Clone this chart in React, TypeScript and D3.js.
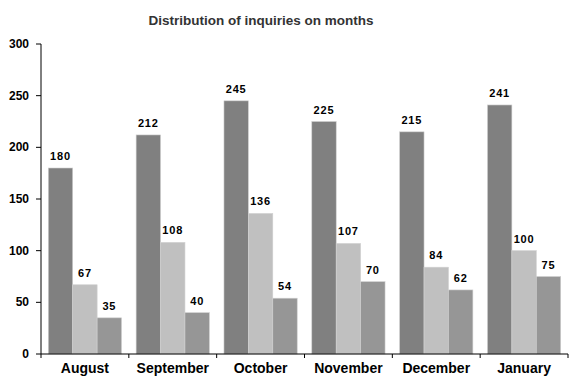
import React from "react";
import * as d3 from "d3";

const months = ["August", "September", "October", "November", "December", "January"];
const series1 = [180, 212, 245, 225, 215, 241];
const series2 = [67, 108, 136, 107, 84, 100];
const series3 = [35, 40, 54, 70, 62, 75];
const yTicks = [0, 50, 100, 150, 200, 250, 300];
const colors = ["#808080", "#c0c0c0", "#969696"];

const W = 580, H = 380;
const left = 41, right = 568, top = 44, bottom = 354;

export default function App() {
  const x = d3.scaleBand<string>().domain(months).range([left, right]).padding(0);
  const y = d3.scaleLinear().domain([0, 300]).range([bottom, top]);
  const bw = x.bandwidth();
  const inner = d3.scaleBand<number>().domain([0, 1, 2]).range([bw * 0.083, bw * 0.917]).padding(0);
  const series = [series1, series2, series3];
  const labelFont = "'Liberation Sans', Arial, sans-serif";
  return (
    <svg width={W} height={H} style={{ position: "absolute", left: 0, top: 0, background: "#fff" }}>
      <text x={261} y={25} textAnchor="middle" fontFamily={labelFont} fontWeight="bold" fontSize={13.5} fill="#333">
        Distribution of inquiries on months
      </text>
      {months.map((m, i) => (
        <g key={m} transform={`translate(${x(m)},0)`}>
          {series.map((s, k) => (
            <g key={k}>
              <rect
                x={inner(k)!}
                y={y(s[i])}
                width={inner.bandwidth()}
                height={bottom - y(s[i])}
                fill={colors[k]}
                stroke="#d0d0d0"
                strokeWidth={0.6}
              />
              <text
                x={inner(k)! + inner.bandwidth() / 2}
                y={y(s[i]) - 8}
                textAnchor="middle"
                fontFamily={labelFont}
                fontWeight="bold"
                fontSize={11}
                letterSpacing={0.8}
                fill="#000"
              >
                {s[i]}
              </text>
            </g>
          ))}
          <text x={bw / 2} y={373} textAnchor="middle" fontFamily={labelFont} fontWeight="bold" fontSize={14} fill="#000">
            {m}
          </text>
        </g>
      ))}
      {/* y axis */}
      <line x1={left} x2={left} y1={top} y2={bottom} stroke="#000" strokeWidth={1} />
      {yTicks.map((t) => (
        <g key={t}>
          <line x1={left - 5} x2={left} y1={y(t)} y2={y(t)} stroke="#000" />
          <text
            x={29}
            y={y(t) + 4}
            textAnchor="end"
            fontFamily="'Liberation Sans Narrow', 'Arial Narrow', sans-serif"
            fontStretch="condensed"
            fontWeight="bold"
            fontSize={12}
            fill="#000"
          >
            {t}
          </text>
        </g>
      ))}
      {/* x axis */}
      <line x1={left} x2={right} y1={bottom} y2={bottom} stroke="#000" strokeWidth={1} />
      {months.map((m) => (
        <line key={m} x1={x(m)!} x2={x(m)!} y1={bottom} y2={bottom + 4} stroke="#000" />
      ))}
      <line x1={right} x2={right} y1={bottom} y2={bottom + 4} stroke="#000" />
    </svg>
  );
}
